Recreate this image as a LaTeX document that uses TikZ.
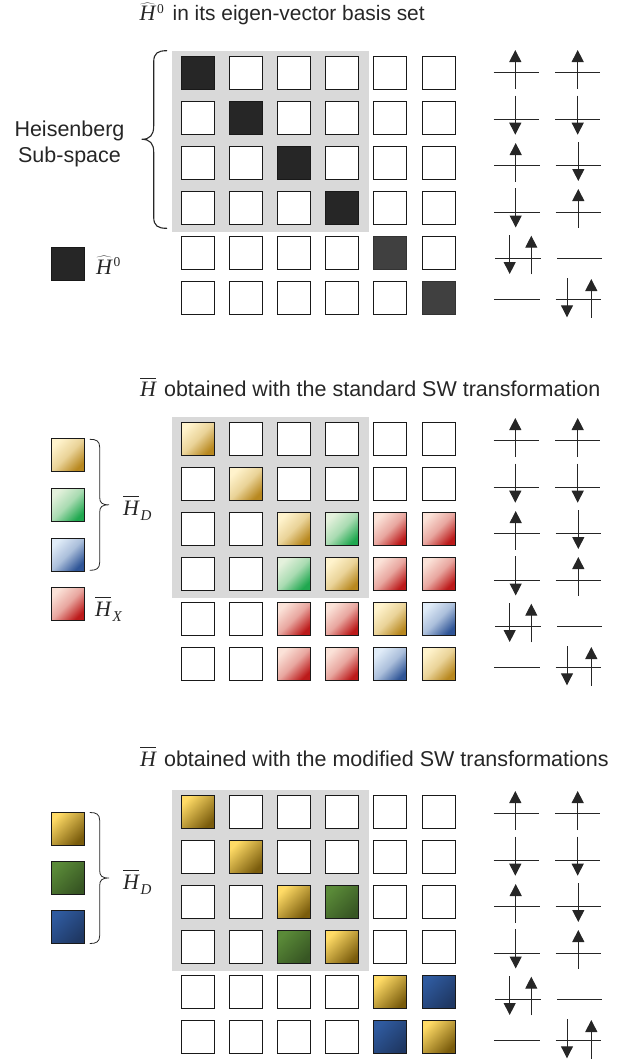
\documentclass[tikz,border=0pt]{standalone}
\IfFileExists{fix-cm.sty}{\usepackage{fix-cm}}{}
\usepackage{fontspec}
\setmainfont{Liberation Sans}
\newfontfamily\symfont{Liberation Serif}
\newcommand{\HH}{\hbox{\fontsize{22}{26}\selectfont\symfont\itshape H}}
\newcommand{\smallit}[1]{{\fontsize{15}{16}\selectfont\symfont\itshape #1}}
\newcommand{\HatZero}{$\widehat{\HH}$\kern1.5pt\raisebox{7.3pt}{\fontsize{13.5}{14}\selectfont\symfont 0}}
\newcommand{\TallH}{\overline{\HH\vrule height 17pt width 0pt}}
\newcommand{\BarH}{\kern1pt$\TallH$\kern2pt}
\newcommand{\BarSub}[1]{$\TallH$\kern1.5pt\raisebox{-5.7pt}{\smallit{#1}}}
\usetikzlibrary{arrows.meta}
\definecolor{ink}{HTML}{262626}
\tikzset{
  x=1pt,y=-1pt,
  every node/.style={text=ink,font=\fontsize{21.5}{26}\selectfont},
  cell/.style={draw=black!90,line width=1pt,minimum size=33pt,inner sep=0pt,outer sep=0pt,fill=white},
  wh/.style={cell},
  dk/.style={cell,fill=ink},
  dm/.style={cell,fill=black!75,draw=black!80},
  grad/.style n args={2}{cell,draw=black!90,top color=#1,bottom color=#2,middle color=#1!50!#2,shading angle=45},
  pale/.style n args={2}{cell,draw=black!90,top color=#1,bottom color=#2,middle color=#1!70!#2,shading angle=45},
  gold/.style={pale={goldA}{goldB}},
  gren/.style={pale={grenA}{grenB}},
  blue/.style={pale={bluA}{bluB}},
  redd/.style={pale={redA}{redB}},
  yell/.style={grad={yelA}{yelB}},
  forest/.style={grad={forA}{forB}},
  navy/.style={grad={navA}{navB}},
  graybox/.style={fill=black!15,draw=none},
  level/.style={line width=1pt,draw=black!85},
  spin/.style={line width=1pt,draw=black!85,-{Triangle[length=12pt,width=12pt,color=ink]}},
  bracebig/.style={line width=1.1pt,draw=ink,line cap=round},
  bracesmall/.style={line width=.8pt,draw=ink,line cap=round},
}
\definecolor{goldA}{HTML}{FFF3CC}\definecolor{goldB}{HTML}{B8881F}
\definecolor{grenA}{HTML}{E4F1DC}\definecolor{grenB}{HTML}{1FA84F}
\definecolor{bluA}{HTML}{E0ECF8}\definecolor{bluB}{HTML}{2F5597}
\definecolor{redA}{HTML}{FBE2D8}\definecolor{redB}{HTML}{BC1A1A}
\definecolor{yelA}{HTML}{FFDB66}\definecolor{yelB}{HTML}{7A5C0C}
\definecolor{forA}{HTML}{5A8A38}\definecolor{forB}{HTML}{375623}
\definecolor{navA}{HTML}{2F5A9E}\definecolor{navB}{HTML}{1F3864}
% #1 panel name, #2 first row centre y, #3 row step, #4 rows
\newcommand{\cellgrid}[4]{%
  \foreach \rowlist [count=\r] in {#4}{%
    \foreach \st [count=\c] in \rowlist{%
      \node[\st] (#1-\r-\c) at ({197.5+48.2*(\c-1)},{#2+#3*(\r-1)}) {};
    }
  }
}
% the six rows of spin diagrams, drawn relative to a shift
\newcommand{\spinset}[1]{%
  \begin{scope}[shift={(0,#1)}]
    \draw[level] (493.7,72.7) -- (539,72.7);
    \draw[level] (555,72.7) -- (600.3,72.7);
    \draw[spin] (515.3,89) -- (515.3,50);
    \draw[spin] (577.7,89) -- (577.7,50);
    \draw[level] (493.7,119.3) -- (539,119.3);
    \draw[level] (555,119.3) -- (600.3,119.3);
    \draw[spin] (515.3,95.7) -- (515.3,134.7);
    \draw[spin] (577.7,95.7) -- (577.7,134.7);
    \draw[level] (494.3,165.7) -- (539.7,165.7);
    \draw[level] (555.7,165.7) -- (601,165.7);
    \draw[spin] (515.7,181.7) -- (515.7,143);
    \draw[spin] (578.3,142.3) -- (578.3,181);
    \draw[level] (494.3,212) -- (539.7,212);
    \draw[level] (555.7,212) -- (601,212);
    \draw[spin] (515.7,188.3) -- (515.7,227.5);
    \draw[spin] (578.3,227.7) -- (578.3,189);
    \draw[level] (495.3,258.3) -- (540.7,258.3);
    \draw[level] (557,258.3) -- (602.3,258.3);
    \draw[spin] (509.7,235) -- (509.7,274);
    \draw[spin] (531.3,274.3) -- (531.3,235.7);
    \draw[level] (494.3,299.3) -- (539.7,299.3);
    \draw[level] (555.7,299.3) -- (601,299.3);
    \draw[spin] (567,278.3) -- (567,317.3);
    \draw[spin] (591.3,317.7) -- (591.3,279);
  \end{scope}
}
\newcommand{\smallbrace}[1]{%
  \begin{scope}[shift={(0,#1)}]
    \draw[bracesmall] (90,0) .. controls (96,0) and (99.7,1.5) .. (99.7,8)
      -- (99.7,58) .. controls (99.7,63.5) and (102,65.5) .. (109,65.5)
      .. controls (102,65.5) and (99.7,67.5) .. (99.7,73)
      -- (99.7,123) .. controls (99.7,129.5) and (96,131) .. (90,131);
  \end{scope}
}
\begin{document}
\begin{tikzpicture}
\useasboundingbox (0,0) rectangle (632,1061);
% --- panel 1
\node[anchor=base west,inner sep=0pt,font=\fontsize{20.9}{26}\selectfont] (t1) at (139.5,20.5) {\HatZero\kern3pt{} in its eigen-vector basis set};
\fill[graybox] (172,51) rectangle (369,232);
\cellgrid{a}{72.5}{45.1}{{dk,wh,wh,wh,wh,wh},{wh,dk,wh,wh,wh,wh},{wh,wh,dk,wh,wh,wh},{wh,wh,wh,dk,wh,wh},{wh,wh,wh,wh,dm,wh},{wh,wh,wh,wh,wh,dm}}
\spinset{0}
\draw[bracebig] (166.7,50.7) .. controls (158,50.7) and (153.7,53) .. (153.7,62)
  -- (153.7,126) .. controls (153.7,135) and (150,139.3) .. (141.7,139.3)
  .. controls (150,139.3) and (153.7,143.5) .. (153.7,152)
  -- (153.7,217) .. controls (153.7,226) and (158,228.3) .. (166.7,228.3);
\node[align=center,inner sep=0pt] (hs) at (69.5,144) {Heisenberg\\[0pt]Sub-space};
\node[dk] (k1) at (67.5,263.5) {};
\node[anchor=base west,inner sep=0pt] (k1t) at (96,274) {\HatZero};
% --- panel 2
\node[anchor=base west,inner sep=0pt] (t2) at (139,396.7) {\BarH{} obtained with the standard SW transformation};
\fill[graybox] (172,417) rectangle (369,598);
\cellgrid{b}{439}{45}{{gold,wh,wh,wh,wh,wh},{wh,gold,wh,wh,wh,wh},{wh,wh,gold,gren,redd,redd},{wh,wh,gren,gold,redd,redd},{wh,wh,redd,redd,gold,blue},{wh,wh,redd,redd,blue,gold}}
\spinset{368}
\smallbrace{439.3}
\node[gold] (k2a) at (67.5,455) {};
\node[gren] (k2b) at (67.5,505) {};
\node[blue] (k2c) at (67.5,554.5) {};
\node[redd] (k2d) at (67.5,604) {};
\node[anchor=base west,inner sep=0pt] (k2t) at (123,515) {\BarSub{D}};
\node[anchor=base west,inner sep=0pt] (k2u) at (95,616) {\BarSub{X}};
% --- panel 3
\node[anchor=base west,inner sep=0pt] (t3) at (139,766) {\BarH{} obtained with the modified SW transformations};
\fill[graybox] (172,790) rectangle (369,971);
\cellgrid{c}{812}{45}{{yell,wh,wh,wh,wh,wh},{wh,yell,wh,wh,wh,wh},{wh,wh,yell,forest,wh,wh},{wh,wh,forest,yell,wh,wh},{wh,wh,wh,wh,yell,navy},{wh,wh,wh,wh,navy,yell}}
\spinset{741}
\smallbrace{812.5}
\node[yell] (k3a) at (67.5,828.5) {};
\node[forest] (k3b) at (67.5,878) {};
\node[navy] (k3c) at (67.5,927) {};
\node[anchor=base west,inner sep=0pt] (k3t) at (123,889) {\BarSub{D}};
\end{tikzpicture}
\end{document}
